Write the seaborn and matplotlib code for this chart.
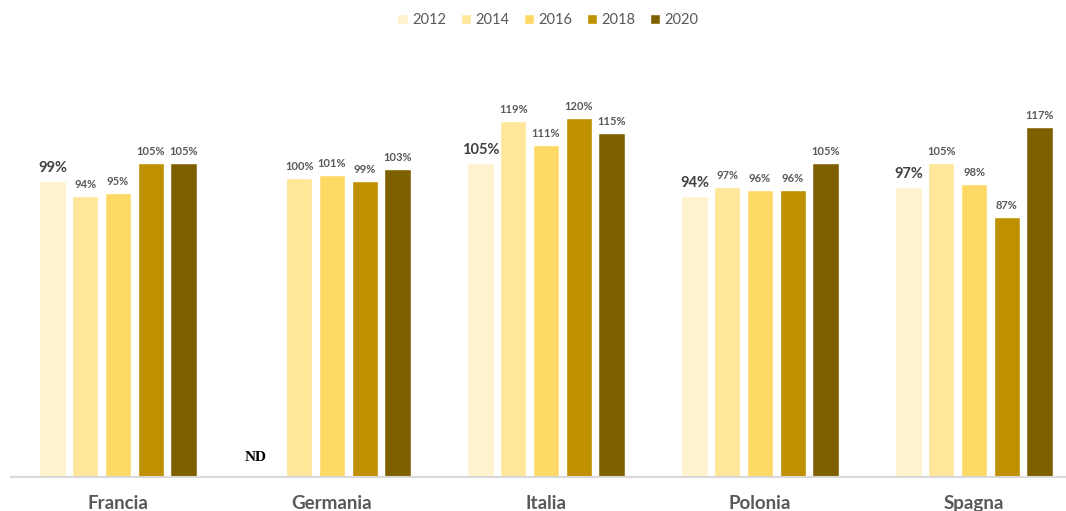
import matplotlib
matplotlib.use("Agg")
import matplotlib.pyplot as plt
import seaborn as sns
import pandas as pd
import numpy as np

countries = ['Francia', 'Germania', 'Italia', 'Polonia', 'Spagna']
years = ['2012', '2014', '2016', '2018', '2020']
# values in %, None = not available (ND)
v2012 = [99, None, 105, 94, 97]
v2014 = [94, 100, 119, 97, 105]
v2016 = [95, 101, 111, 96, 98]
v2018 = [105, 99, 120, 96, 87]
v2020 = [105, 103, 115, 105, 117]
colors = ['#FFF2CC', '#FFE699', '#FFD966', '#BF9000', '#7F6000']

rows = []
for year, vals in zip(years, [v2012, v2014, v2016, v2018, v2020]):
    for c, v in zip(countries, vals):
        rows.append({'paese': c, 'anno': year, 'valore': np.nan if v is None else v})
df = pd.DataFrame(rows)

sns.set_theme(style='white')
plt.rcParams['font.family'] = ['Lato', 'DejaVu Sans']

fig = plt.figure(figsize=(10.66, 5.11), dpi=100)
ax = fig.add_axes([11 / 1066, 34 / 511, 1070 / 1066, 419 / 511])

sns.barplot(data=df, x='paese', y='valore', hue='anno', order=countries, hue_order=years,
            palette=colors, width=0.765, gap=0.2, errorbar=None, ax=ax, saturation=1)

for i, cont in enumerate(ax.containers):
    big = i == 0
    ax.bar_label(cont, fmt=lambda v: f"{v:.0f}%", padding=4,
                 fontsize=10.5 if big else 8, fontweight='bold',
                 color='#404040' if big else '#595959')

# Germania 2012 not available
ax.text(1 - 0.355, 4.2, 'ND', ha='center', va='bottom', fontsize=11,
        fontweight='bold', family='Liberation Serif', color='black')

ax.set_ylim(0, 140)
ax.set_xlim(-0.5, 4.5)
ax.set_xlabel('')
ax.set_ylabel('')
ax.set_yticks([])
for s in ['top', 'right', 'left']:
    ax.spines[s].set_visible(False)
ax.spines['bottom'].set_color('#D9D9D9')
ax.spines['bottom'].set_linewidth(1.5)
ax.tick_params(axis='x', length=0, pad=13, labelsize=13.5, labelcolor='#595959')
for lbl in ax.get_xticklabels():
    lbl.set_fontweight('bold')

ax.legend(loc='upper center', bbox_to_anchor=(548 / 1066, 1.0), bbox_transform=fig.transFigure,
          ncol=5, frameon=False, fontsize=10.5, labelcolor='#595959',
          handlelength=0.7, handleheight=0.7, handletextpad=0.3, columnspacing=1.0)

fig.savefig('out.png', dpi=100)
